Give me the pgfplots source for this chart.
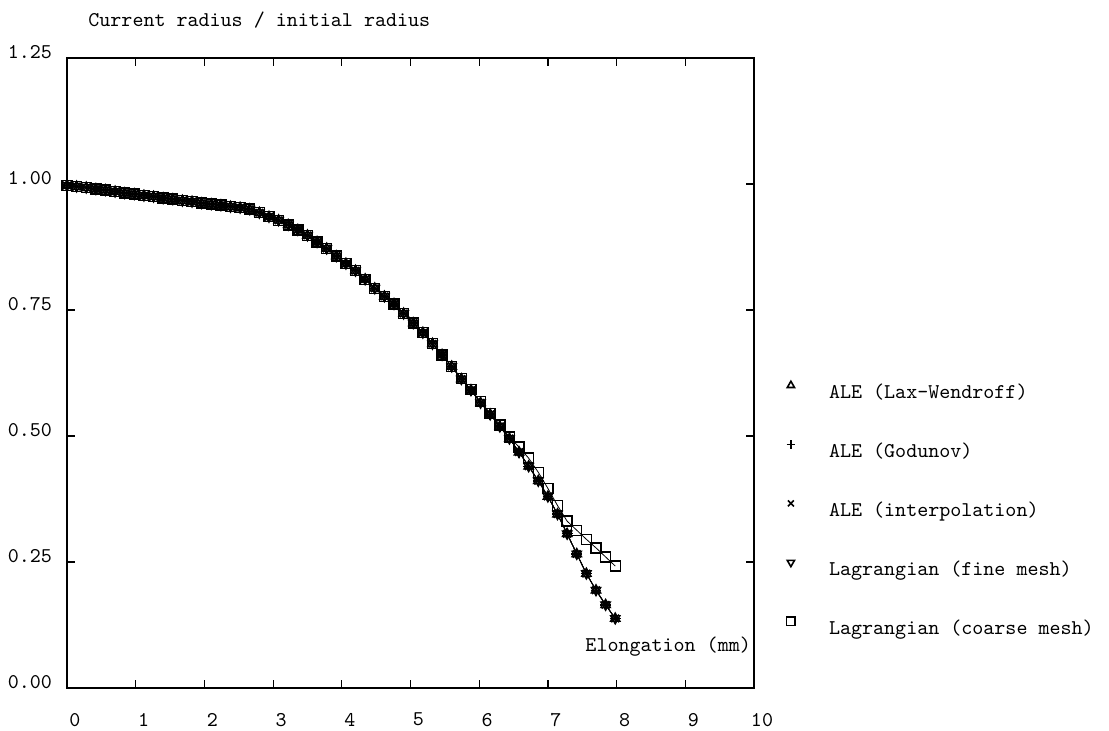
\documentclass[border=0pt]{standalone}
\usepackage{pgfplots}
\usepackage{pgfplotstable}
\pgfplotsset{compat=1.18}
\newcommand{\ff}{\ttfamily\fontsize{10.5}{12}\selectfont}
\pgfplotstableread{
x y
0.00 0.997
0.14 0.995
0.28 0.993
0.42 0.990
0.56 0.988
0.70 0.985
0.84 0.982
0.98 0.980
1.12 0.977
1.26 0.975
1.40 0.972
1.54 0.970
1.68 0.967
1.82 0.965
1.96 0.962
2.10 0.960
2.24 0.958
2.38 0.955
2.52 0.953
2.66 0.950
2.80 0.943
2.94 0.935
3.08 0.928
3.22 0.919
3.36 0.909
3.50 0.898
3.64 0.885
3.78 0.872
3.92 0.857
4.06 0.842
4.20 0.828
4.34 0.811
4.48 0.793
4.62 0.777
4.76 0.762
4.90 0.743
5.04 0.724
5.18 0.705
5.32 0.683
5.46 0.661
5.60 0.638
5.74 0.613
5.88 0.591
6.02 0.566
6.16 0.543
6.30 0.519
6.44 0.495
6.58 0.468
6.72 0.440
6.86 0.411
7.00 0.380
7.14 0.345
7.28 0.306
7.42 0.266
7.56 0.227
7.70 0.194
7.84 0.165
7.98 0.138
}\maintab
\pgfplotstableread{
x y
0.00 0.997
0.14 0.995
0.28 0.993
0.42 0.990
0.56 0.988
0.70 0.985
0.84 0.982
0.98 0.980
1.12 0.977
1.26 0.975
1.40 0.972
1.54 0.970
1.68 0.967
1.82 0.965
1.96 0.962
2.10 0.960
2.24 0.958
2.38 0.955
2.52 0.953
2.66 0.950
2.80 0.943
2.94 0.935
3.08 0.928
3.22 0.919
3.36 0.909
3.50 0.898
3.64 0.885
3.78 0.872
3.92 0.857
4.06 0.842
4.20 0.828
4.34 0.811
4.48 0.793
4.62 0.777
4.76 0.762
4.90 0.743
5.04 0.724
5.18 0.705
5.32 0.683
5.46 0.661
5.60 0.638
5.74 0.614
5.88 0.592
6.02 0.568
6.16 0.545
6.30 0.522
6.44 0.498
6.58 0.478
6.72 0.456
6.86 0.428
7.00 0.396
7.14 0.362
7.28 0.331
7.42 0.313
7.56 0.295
7.70 0.278
7.84 0.260
7.98 0.242
}\coarsetab
\begin{document}
\begin{tikzpicture}
\begin{axis}[
  name=ax,
  width=343.5pt, height=315pt, scale only axis,
  xmin=0, xmax=10, ymin=0, ymax=1.25,
  xtick={0,1,...,10},
  ytick={0,0.25,0.5,0.75,1,1.25},
  tick align=inside,
  major tick length=4pt,
  axis line style={line width=0.7pt},
  every tick/.style={black, line width=0.6pt},
  tick label style={font=\ff},
  /pgf/number format/assume math mode=true,
  yticklabel style={/pgf/number format/.cd, fixed, fixed zerofill, precision=2, /tikz/.cd, xshift=-4pt, yshift=3pt},
  xticklabel style={xshift=4pt, yshift=-9pt},
  clip=false,
  legend cell align=left,
  legend image code/.code={\draw[#1, mark size=2.1pt, every mark/.append style={line width=0.8pt}] plot coordinates {(0pt,3.5pt)};},
  legend style={draw=none, fill=none, font=\ff,
    at={(rel axis cs:1.047,0.488)}, anchor=north west,
    inner sep=0pt, row sep=18pt,
    nodes={inner sep=0pt, text height=9pt, text depth=2.5pt},
    /tikz/every odd column/.append style={column sep=17pt}},
]
\addplot[black, line width=0.4pt, mark=triangle, mark size=2.7pt, mark options={solid, line width=0.7pt}] table {\maintab};
\addlegendentry{ALE (Lax-Wendroff)}
\addplot[black, line width=0.4pt, mark=+, mark size=2.7pt, mark options={solid, line width=0.7pt}] table {\maintab};
\addlegendentry{ALE (Godunov)}
\addplot[black, line width=0.4pt, mark=x, mark size=2.7pt, mark options={solid, line width=0.7pt}] table {\maintab};
\addlegendentry{ALE (interpolation)}
\addplot[black, line width=0.4pt, mark=triangle, mark size=2.7pt, mark options={solid, line width=0.7pt, rotate=180}] table {\maintab};
\addlegendentry{Lagrangian (fine mesh)}
\addplot[black, line width=0.4pt, mark=square, mark size=2.5pt, mark options={solid, line width=0.7pt}] table {\coarsetab};
\addlegendentry{Lagrangian (coarse mesh)}
\node[anchor=west, font=\ff, inner sep=0pt] at (rel axis cs:0.0306,1.060) {Current radius / initial radius};
\node[anchor=east, font=\ff, inner sep=0pt] at (rel axis cs:0.996,0.065) {Elongation (mm)};
\end{axis}
\pgfresetboundingbox
\path (ax.south west) ++(-33.5pt,-21.5pt) rectangle ++(554.5pt,365.5pt);
\end{tikzpicture}
\end{document}
